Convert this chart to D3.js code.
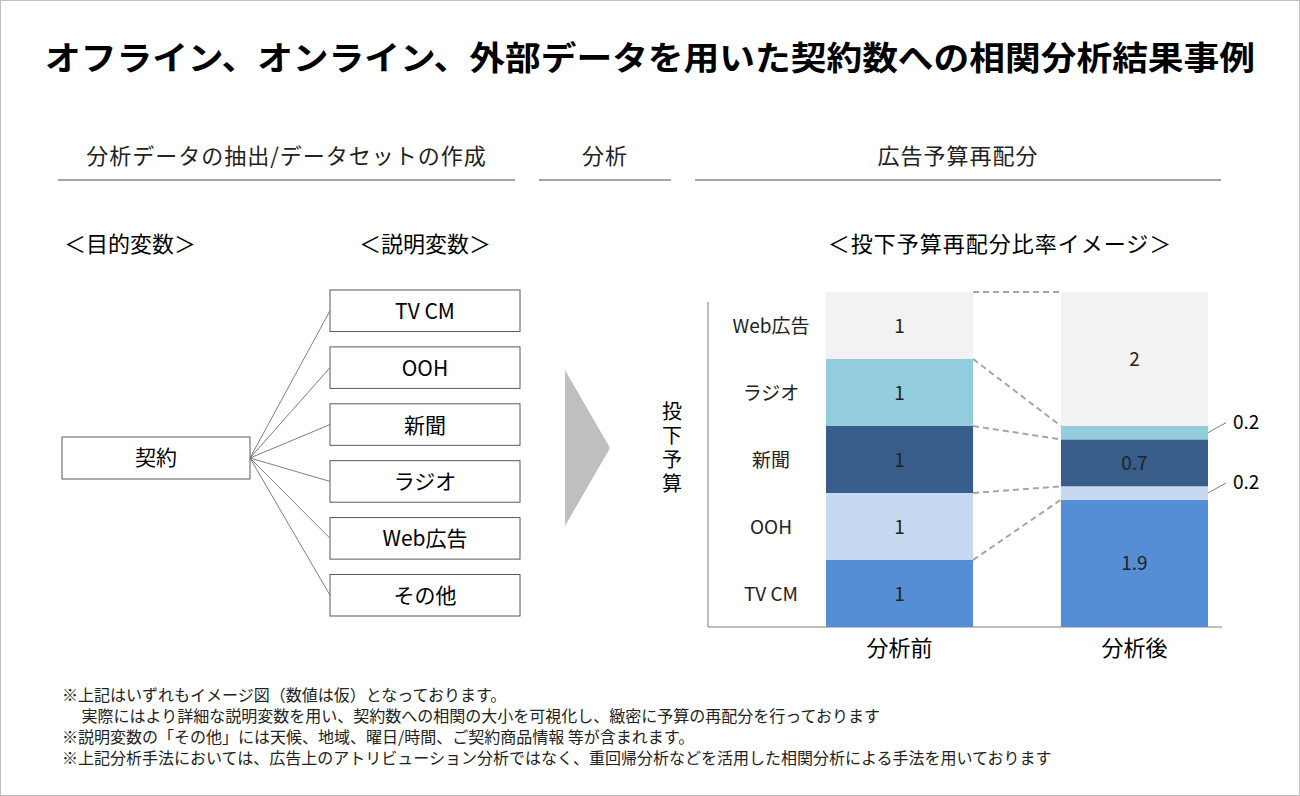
<!DOCTYPE html>
<html><head><meta charset="utf-8">
<script src="https://cdn.jsdelivr.net/npm/d3@7"></script>
<style>body{margin:0;background:#fff}svg{font-family:"Noto Sans CJK JP","Noto Sans",sans-serif}</style>
</head><body><svg id="svg" width="1300" height="796"></svg>
<script>
const categories = ['TV CM', 'OOH', '新聞', 'ラジオ', 'Web広告']
const colors = ['#558ed5', '#c6d9f1', '#385d8a', '#93cddd', '#f2f2f2']
const before = [1, 1, 1, 1, 1]
const after = [1.9, 0.2, 0.7, 0.2, 2]
const groups = ['分析前', '分析後']
const variables = ['TV CM', 'OOH', '新聞', 'ラジオ', 'Web広告', 'その他']
const notes = [
  '※上記はいずれもイメージ図（数値は仮）となっております。',
  '　 実際にはより詳細な説明変数を用い、契約数への相関の大小を可視化し、緻密に予算の再配分を行っております',
  '※説明変数の「その他」には天候、地域、曜日/時間、ご契約商品情報 等が含まれます。',
  '※上記分析手法においては、広告上のアトリビューション分析ではなく、重回帰分析などを活用した相関分析による手法を用いております'
]

const svg = d3.select('#svg')
svg.append('rect').attr('x', 0.5).attr('y', 0.5).attr('width', 1299).attr('height', 795)
  .attr('fill', 'none').attr('stroke', '#bfbfbf')

svg.append('text').attr('x', 45).attr('y', 70)
  .attr('font-size', 33).attr('font-weight', 'bold').attr('fill', '#000')
  .attr('textLength', 1210).attr('lengthAdjust', 'spacingAndGlyphs')
  .text('オフライン、オンライン、外部データを用いた契約数への相関分析結果事例')

// section headers
const heads = [['分析データの抽出/データセットの作成', 58, 515], ['分析', 539, 671], ['広告予算再配分', 695, 1221]]
heads.forEach(([t, x0, x1]) => {
  svg.append('text').attr('x', (x0 + x1) / 2).attr('y', 164).attr('text-anchor', 'middle')
    .attr('font-size', 22).attr('letter-spacing', 1).attr('fill', '#222').text(t)
  svg.append('line').attr('x1', x0).attr('x2', x1).attr('y1', 180).attr('y2', 180)
    .attr('stroke', '#a6a6a6').attr('stroke-width', 2)
})
svg.append('text').attr('x', 130).attr('y', 252).attr('text-anchor', 'middle').attr('font-size', 22).text('＜目的変数＞')
svg.append('text').attr('x', 425).attr('y', 252).attr('text-anchor', 'middle').attr('font-size', 22).text('＜説明変数＞')
svg.append('text').attr('x', 1000).attr('y', 252).attr('text-anchor', 'middle').attr('font-size', 22).attr('letter-spacing', 1).text('＜投下予算再配分比率イメージ＞')

// left diagram
const by = d3.scaleBand().domain(variables).range([290, 616]).paddingInner(0.27)
variables.forEach(v => {
  svg.append('line').attr('x1', 250).attr('y1', 458).attr('x2', 330).attr('y2', by(v) + by.bandwidth() / 2)
    .attr('stroke', '#7f7f7f')
})
svg.append('rect').attr('x', 62).attr('y', 437).attr('width', 188).attr('height', 42)
  .attr('fill', '#fff').attr('stroke', '#595959')
svg.append('text').attr('x', 156).attr('y', 465).attr('text-anchor', 'middle').attr('font-size', 21).text('契約')
svg.selectAll('.vbox').data(variables).enter().append('rect')
  .attr('x', 330).attr('y', d => by(d)).attr('width', 190).attr('height', by.bandwidth())
  .attr('fill', '#fff').attr('stroke', '#595959')
svg.selectAll('.vtxt').data(variables).enter().append('text')
  .attr('x', 425).attr('y', d => by(d) + by.bandwidth() / 2 + 8).attr('text-anchor', 'middle')
  .attr('font-size', 21).text(d => d)

svg.append('path').attr('d', 'M565,370 L610,448 L565,526 Z').attr('fill', '#bfbfbf')

// stacked chart
const x = d3.scaleBand().domain(groups).range([826, 1208]).paddingInner(0.374).paddingOuter(0)
const y = d3.scaleLinear().domain([0, 5]).range([627, 292])
const stack = vals => { let c = 0; return vals.map((v, i) => ({ i, v, y0: c, y1: (c += v) })) }
const data = [stack(before), stack(after)]
const bw = x.bandwidth()

svg.append('line').attr('x1', 708).attr('x2', 708).attr('y1', 302).attr('y2', 627).attr('stroke', '#7f7f7f')
svg.append('line').attr('x1', 708).attr('x2', 1222).attr('y1', 627).attr('y2', 627).attr('stroke', '#7f7f7f')

data.forEach((segs, g) => {
  const gx = x(groups[g])
  svg.selectAll('.s' + g).data(segs).enter().append('rect')
    .attr('x', gx).attr('width', bw).attr('y', d => y(d.y1)).attr('height', d => y(d.y0) - y(d.y1))
    .attr('fill', d => colors[d.i])
  svg.selectAll('.t' + g).data(segs.filter(d => d.v >= 0.5)).enter().append('text')
    .attr('x', gx + bw / 2).attr('y', d => y((d.y0 + d.y1) / 2) + 7).attr('text-anchor', 'middle')
    .attr('font-size', 19).attr('fill', '#222').text(d => d.v)
  svg.append('text').attr('x', gx + bw / 2).attr('y', 656).attr('text-anchor', 'middle')
    .attr('font-size', 22).text(groups[g])
})
// small labels
data[1].filter(d => d.v < 0.5).forEach(d => {
  const yy = y((d.y0 + d.y1) / 2)
  const xr = x(groups[1]) + bw
  svg.append('line').attr('x1', xr).attr('y1', yy).attr('x2', xr + 18).attr('y2', yy - 10).attr('stroke', '#7f7f7f')
  svg.append('text').attr('x', xr + 25).attr('y', yy - 4).attr('font-size', 19).text(d.v)
})
// connectors
const bx = x(groups[0]) + bw, ax = x(groups[1])
data[0].forEach((d, i) => {
  svg.append('line').attr('x1', bx).attr('y1', y(d.y1)).attr('x2', ax).attr('y2', y(data[1][i].y1))
    .attr('stroke', '#a6a6a6').attr('stroke-width', 2).attr('stroke-dasharray', '6,4')
})
// category labels
svg.selectAll('.cl').data(data[0]).enter().append('text')
  .attr('x', 771).attr('y', d => y((d.y0 + d.y1) / 2) + 7).attr('text-anchor', 'middle')
  .attr('font-size', 19).attr('fill', '#222').text(d => categories[d.i])
// y title
;['投', '下', '予', '算'].forEach((c, i) => {
  svg.append('text').attr('x', 672).attr('y', 419 + i * 24).attr('text-anchor', 'middle').attr('font-size', 20).text(c)
})

svg.selectAll('.note').data(notes).enter().append('text')
  .attr('x', 62).attr('y', (d, i) => 701 + i * 21).attr('font-size', 16).attr('fill', '#222').text(d => d)
</script></body></html>
